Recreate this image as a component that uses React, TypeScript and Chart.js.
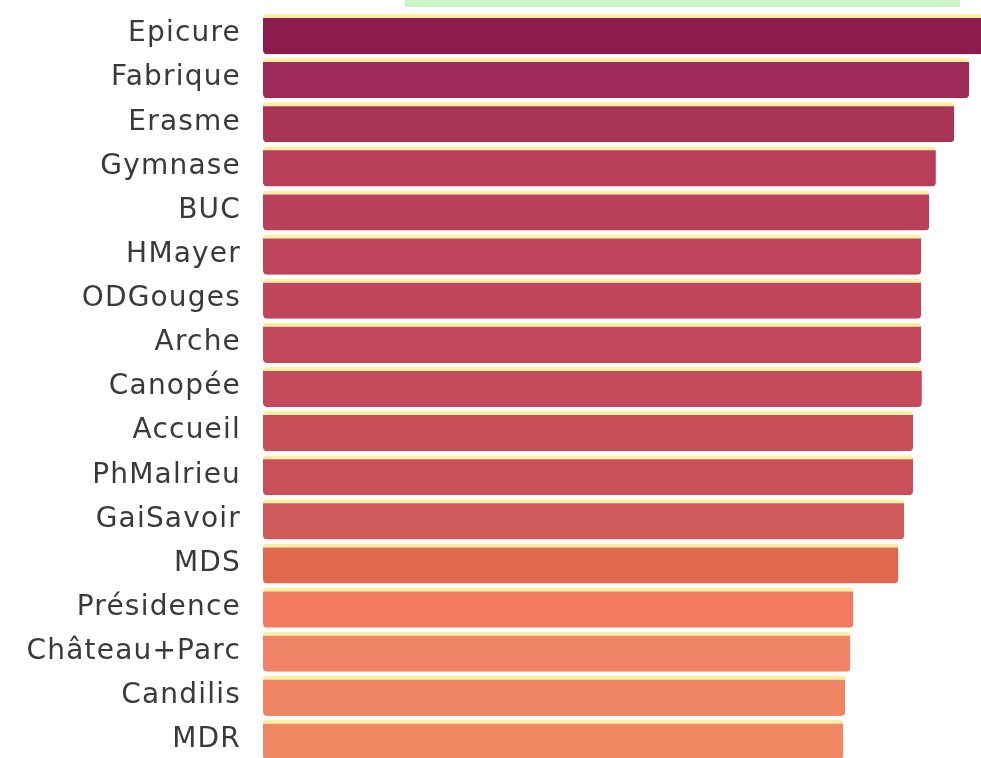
import React, { useEffect, useRef } from "react";
import { Chart, registerables } from "chart.js";

Chart.register(...registerables);

const categories = [
  "Epicure",
  "Fabrique",
  "Erasme",
  "Gymnase",
  "BUC",
  "HMayer",
  "ODGouges",
  "Arche",
  "Canopée",
  "Accueil",
  "PhMalrieu",
  "GaiSavoir",
  "MDS",
  "Présidence",
  "Château+Parc",
  "Candilis",
  "MDR",
];

const values = [980, 958, 938, 913, 904, 893, 893, 893, 894, 882, 882, 870, 862, 801, 797, 790, 787];

const barColors = [
  "#8d1c4e",
  "#9d2a58",
  "#aa3456",
  "#b83e5a",
  "#bb405b",
  "#bf445b",
  "#c1465b",
  "#c3485b",
  "#c44a5b",
  "#c84e5a",
  "#c94f5a",
  "#cf5a5b",
  "#e0684c",
  "#f27b62",
  "#f08467",
  "#f08566",
  "#f08864",
];

const letterSpacingPlugin = {
  id: "letterSpacing",
  beforeDraw(chart: any) {
    chart.ctx.letterSpacing = "1.2px";
  },
  afterDraw(chart: any) {
    chart.ctx.letterSpacing = "0px";
  },
};

export default function App() {
  const ref = useRef<HTMLCanvasElement>(null);

  useEffect(() => {
    document.body.style.margin = "0";
    const chart = new Chart(ref.current as HTMLCanvasElement, {
      type: "bar",
      data: {
        labels: categories,
        datasets: [
          {
            data: values,
            backgroundColor: barColors,
            borderColor: "#fcef9f",
            borderWidth: { top: 4, right: 0, bottom: 0, left: 0 },
            borderRadius: 4,
            borderSkipped: false,
            barPercentage: 0.91,
            categoryPercentage: 1,
          },
        ],
      },
      options: {
        indexAxis: "y",
        animation: false,
        responsive: false,
        maintainAspectRatio: false,
        layout: { padding: { top: 12, bottom: 0, left: 0, right: 0 } },
        plugins: { legend: { display: false }, tooltip: { enabled: false } },
        scales: {
          x: { display: false, min: 0, max: 1000 },
          y: {
            grid: { display: false },
            border: { display: false },
            ticks: {
              color: "#3a3a3a",
              font: { family: "DejaVu Sans", size: 28 },
              padding: 14,
            },
            afterFit: (s: any) => {
              s.width = 263;
              s.paddingTop = 0;
              s.paddingBottom = 0;
            },
          },
        },
      },
      plugins: [letterSpacingPlugin],
    } as any);
    return () => chart.destroy();
  }, []);

  return (
    <div style={{ position: "relative", width: 981, height: 758, overflow: "hidden", background: "#ffffff" }}>
      <div style={{ position: "absolute", left: 405, top: 0, width: 555, height: 7, background: "#c9f5c9" }} />
      <canvas ref={ref} width={1000} height={762} style={{ position: "absolute", left: 0, top: 0, width: 1000, height: 762 }} />
    </div>
  );
}
